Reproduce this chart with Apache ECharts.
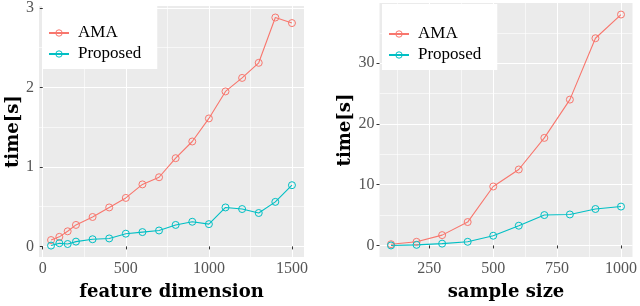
<!DOCTYPE html>
<html><head><meta charset="utf-8">
<script src="https://cdn.jsdelivr.net/npm/echarts@6/dist/echarts.min.js"></script>
<style>html,body{margin:0;padding:0;background:#fff}#c{width:640px;height:306px}</style>
</head><body><div id="c"></div>
<script>
const featureDims = [50,100,150,200,300,400,500,600,700,800,900,1000,1100,1200,1300,1400,1500];
const featureAMA = [0.08,0.12,0.19,0.27,0.37,0.49,0.61,0.78,0.87,1.11,1.32,1.61,1.95,2.12,2.31,2.88,2.81];
const featureProposed = [0.01,0.04,0.03,0.06,0.09,0.10,0.16,0.18,0.20,0.27,0.31,0.28,0.49,0.47,0.42,0.56,0.77];
const sampleSizes = [100,200,300,400,500,600,700,800,900,1000];
const sampleAMA = [0.2,0.6,1.7,3.85,9.7,12.5,17.7,24.0,34.1,38.0];
const sampleProposed = [0.0,0.1,0.3,0.6,1.6,3.25,5.0,5.1,6.0,6.4];
const featureXTicks = [0,500,1000,1500];
const featureXMinor = [250,750,1250];
const featureYTicks = [0,1,2,3];
const featureYMinor = [0.5,1.5,2.5];
const sampleXTicks = [250,500,750,1000];
const sampleXMinor = [125,375,625,875];
const sampleYTicks = [0,10,20,30];
const sampleYMinor = [5,15,25,35];
const seriesNames = ['AMA','Proposed'];
const xTitles = ['feature dimension','sample size'];
const yTitle = 'time[s]';

const colors = ['#F8766D','#00BFC4'];
function expand(arrs){
  const all = [].concat(...arrs);
  const mn = Math.min(...all), mx = Math.max(...all), s = (mx-mn)*0.05;
  return [mn-s, mx+s];
}
const serif = 'Liberation Serif';
const tickFont = {fontFamily: serif, fontSize: 16, color: '#555'};
const titleFont = {fontFamily: 'DejaVu Serif', fontWeight: 'bold', fontSize: 18, color: '#000'};

function majorAxis(gridIndex, range, ticks, name, isX){
  return {
    type:'value', gridIndex, min: range[0], max: range[1],
    name, nameLocation:'middle', nameGap: isX ? 26 : 15, nameTextStyle: titleFont,
    axisLine:{show:false},
    axisTick:{show:true, length:3, customValues: ticks, lineStyle:{color:'#333', width:1}},
    axisLabel:{show:true, customValues: ticks, margin: isX ? 4 : 5, formatter: v => String(v), ...tickFont},
    splitLine:{show:true, lineStyle:{color:'#fff', width:1.1}},
    z: 2
  };
}
function minorAxis(gridIndex, range, ticks){
  return {
    type:'value', gridIndex, min: range[0], max: range[1],
    axisLine:{show:false}, axisLabel:{show:false},
    axisTick:{show:false, customValues: ticks},
    splitLine:{show:true, lineStyle:{color:'#fff', width:0.6}},
    z: 1
  };
}

const fx = expand([featureDims]), fy = expand([featureAMA, featureProposed]);
const sx = expand([sampleSizes]), sy = expand([sampleAMA, sampleProposed]);

function mkSeries(name, xs, ys, xi, yi, color){
  return {
    type:'line', name, xAxisIndex: xi, yAxisIndex: yi,
    data: xs.map((x,i)=>[x, ys[i]]),
    symbol:'circle', symbolSize:7,
    lineStyle:{color, width:1.1}, itemStyle:{color:'rgba(0,0,0,0)', borderColor: color, borderWidth:1},
    emphasis:{disabled:true}, animation:false, z: 5
  };
}
const legendBase = {
  orient:'vertical', backgroundColor:'#fff', itemWidth:20, itemHeight:8, itemGap:3,
  itemStyle:{borderWidth:1},
  textStyle:{fontFamily: serif, fontSize:17, color:'#000', lineHeight:18, padding:[0,0,0,4]}, data: seriesNames,
  borderWidth:0
};

const chart = echarts.init(document.getElementById('c'), null, {renderer:'canvas'});
chart.setOption({
  animation:false,
  grid:[
    {left:39, top:3, width:265, height:257, show:true, backgroundColor:'#EBEBEB', borderWidth:0},
    {left:379.5, top:3, width:254.5, height:257, show:true, backgroundColor:'#EBEBEB', borderWidth:0}
  ],
  xAxis:[
    majorAxis(0, fx, featureXTicks, xTitles[0], true),
    minorAxis(0, fx, featureXMinor),
    majorAxis(1, sx, sampleXTicks, xTitles[1], true),
    minorAxis(1, sx, sampleXMinor)
  ],
  yAxis:[
    majorAxis(0, fy, featureYTicks, yTitle, false),
    minorAxis(0, fy, featureYMinor),
    majorAxis(1, sy, sampleYTicks, yTitle, false),
    minorAxis(1, sy, sampleYMinor)
  ],
  legend:[
    {...legendBase, left:43, top:3, padding:[21,16,6,5]},
    {...legendBase, left:382, top:4, padding:[21,16,6,6]}
  ],
  series:[
    mkSeries(seriesNames[0], featureDims, featureAMA, 0, 0, colors[0]),
    mkSeries(seriesNames[1], featureDims, featureProposed, 0, 0, colors[1]),
    mkSeries(seriesNames[0], sampleSizes, sampleAMA, 2, 2, colors[0]),
    mkSeries(seriesNames[1], sampleSizes, sampleProposed, 2, 2, colors[1])
  ]
});
</script></body></html>
